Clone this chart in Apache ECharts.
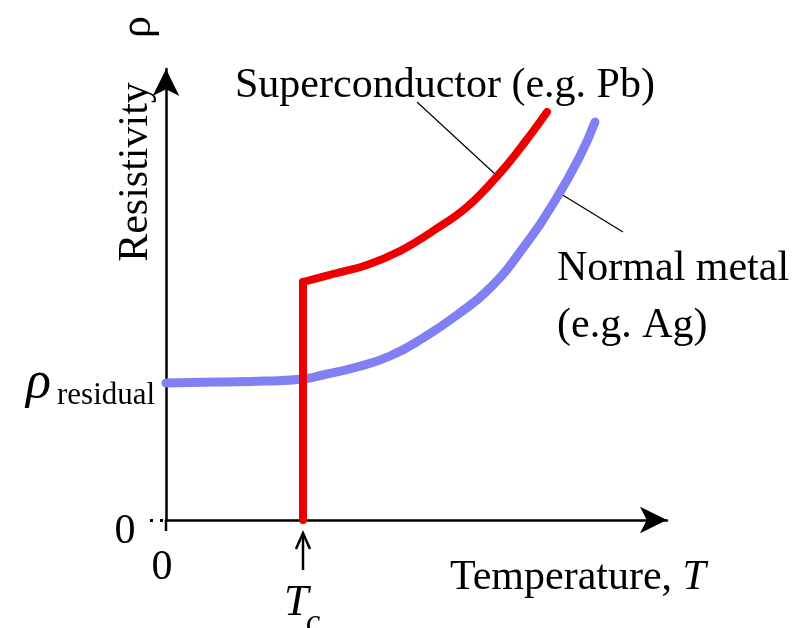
<!DOCTYPE html>
<html><head><meta charset="utf-8">
<script src="https://cdn.jsdelivr.net/npm/echarts@6/dist/echarts.min.js"></script>
<style>html,body{margin:0;padding:0;background:#fff}#c{width:803px;height:628px}</style>
</head><body><div id="c"></div>
<script>
// Temperature (arbitrary units) and resistivity (arbitrary units)
var superT   = [137, 137];
var superRho = [0, 238];
var superCurveT   = [137, 167, 201, 234, 267, 301, 334, 359, 381];
var superCurveRho = [238, 246, 255, 269, 289, 313, 347, 378, 408];
var normalT   = [0, 50, 100, 137, 157, 191, 224, 257, 291, 324, 357, 390, 414, 429];
var normalRho = [137, 138, 139, 141, 145, 153, 164, 182, 205, 232, 272, 321, 364, 398];

function zip(a, b) { return a.map(function (v, i) { return [v, b[i]]; }); }

var F = '"Liberation Serif", "DejaVu Serif", serif';
var chart = echarts.init(document.getElementById('c'), null, {renderer: 'canvas'});
var axisCommon = {
  type: 'value', min: 0,
  axisLine: {show: true, onZero: false, symbol: ['none', 'arrow'], symbolSize: [20, 27],
             lineStyle: {color: '#000', width: 2.5}},
  axisTick: {show: false}, axisLabel: {show: false}, splitLine: {show: false}
};
function txt(text, x, y, size, opts) {
  opts = opts || {};
  return {type: 'text', x: x, y: y, rotation: opts.rot || 0, z: 10,
    style: {text: text, font: (opts.italic ? 'italic ' : '') + size + 'px ' + F,
      fill: '#000', align: opts.align || 'left', verticalAlign: 'middle'}};
}
chart.setOption({
  animation: false,
  backgroundColor: '#fff',
  grid: {left: 166, top: 69, width: 501, height: 451},
  xAxis: Object.assign({}, axisCommon, {max: 501}),
  yAxis: Object.assign({}, axisCommon, {max: 451}),
  series: [
    {type: 'line', data: zip(normalT, normalRho), smooth: 0.5, showSymbol: false,
     lineStyle: {color: '#8080f4', width: 9, cap: 'round'}},
    {type: 'line', data: zip(superT, superRho), showSymbol: false,
     lineStyle: {color: '#ee0000', width: 8, cap: 'round', join: 'round'}},
    {type: 'line', data: zip(superCurveT, superCurveRho), smooth: 0.4, showSymbol: false,
     lineStyle: {color: '#ee0000', width: 8, cap: 'round', join: 'round'}}
  ],
  graphic: [
    txt('Superconductor (e.g. Pb)', 235, 86, 42),
    txt('Normal metal', 557, 269, 42),
    txt('(e.g. Ag)', 557, 326, 42),
    {type: 'text', x: 450, y: 578, z: 10, style: {
      text: '{a|Temperature, }{i|T}', verticalAlign: 'middle', align: 'left',
      rich: {a: {font: '42px ' + F, fill: '#000'}, i: {font: 'italic 42px ' + F, fill: '#000'}}}},
    txt('Resistivity', 136, 172, 42, {rot: Math.PI / 2, align: 'center'}),
    txt('ρ', 138, 27, 44, {rot: Math.PI / 2, align: 'center'}),
    txt('ρ', 26, 383, 52, {italic: true}),
    txt('residual', 57, 396, 31),
    txt('0', 125, 532, 42, {align: 'center'}),
    txt('0', 162, 568, 42, {align: 'center'}),
    txt('T', 284, 603, 44, {italic: true}),
    txt('c', 306, 623, 32, {italic: true}),
    {type: 'line', shape: {x1: 303, y1: 570, x2: 303, y2: 534}, style: {stroke: '#000', lineWidth: 2.5}},
    {type: 'polyline', shape: {points: [[296, 549], [303, 533], [310, 549]]}, style: {stroke: '#000', lineWidth: 2.5, fill: null}},
    {type: 'line', shape: {x1: 417, y1: 102, x2: 495, y2: 174}, style: {stroke: '#000', lineWidth: 1.2}},
    {type: 'line', shape: {x1: 561, y1: 194, x2: 623, y2: 232}, style: {stroke: '#000', lineWidth: 1.2}},
    {type: 'rect', shape: {x: 150, y: 519, width: 3, height: 3}, style: {fill: '#000'}},
    {type: 'rect', shape: {x: 160, y: 519, width: 3, height: 3}, style: {fill: '#000'}},
    {type: 'line', shape: {x1: 166, y1: 520, x2: 166, y2: 531}, style: {stroke: '#000', lineWidth: 2.5}}
  ]
});
</script></body></html>
